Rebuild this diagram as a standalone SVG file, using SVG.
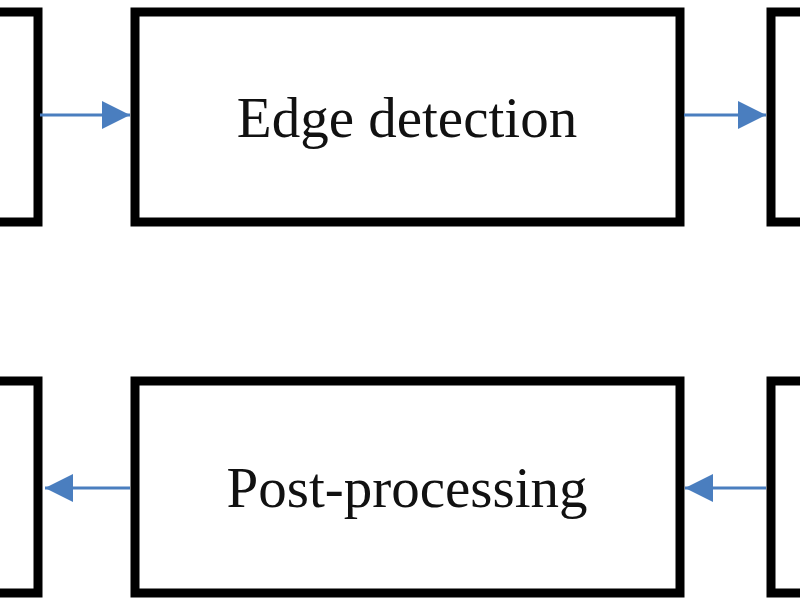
<svg xmlns="http://www.w3.org/2000/svg" width="800" height="600" viewBox="0 0 800 600">
<style>
.box{fill:#fff;stroke:#000;stroke-width:9}
.lbl{font-family:"Liberation Serif",serif;font-size:57px;fill:#111;text-anchor:middle}
</style>
<defs>
<marker id="ah2" markerWidth="28" markerHeight="28" refX="28" refY="14" orient="auto" markerUnits="userSpaceOnUse"><path d="M0,0 L28,14 L0,28 Z" fill="#4a7ebf"/></marker></defs>
<rect width="800" height="600" fill="#fff"/>
<g id="n-left-top"><rect class="box" x="-20" y="12" width="58" height="210"/></g>
<g id="n-edge"><rect class="box" x="135" y="12" width="545" height="210"/><text class="lbl" x="407" y="137">Edge detection</text></g>
<g id="n-right-top"><rect class="box" x="771" y="12" width="60" height="210"/></g>
<g id="n-left-bot"><rect class="box" x="-20" y="381" width="58" height="212"/></g>
<g id="n-post"><rect class="box" x="135" y="381" width="545" height="212"/><text class="lbl" x="407" y="507">Post-processing</text></g>
<g id="n-right-bot"><rect class="box" x="771" y="381" width="60" height="212"/></g>
<g id="connectors" stroke="#4a7ebf" stroke-width="3" fill="none">
<line x1="40" y1="115" x2="130" y2="115" marker-end="url(#ah2)"/>
<line x1="684" y1="115" x2="766" y2="115" marker-end="url(#ah2)"/>
<line x1="130" y1="488" x2="45" y2="488" marker-end="url(#ah2)"/>
<line x1="766" y1="488" x2="685" y2="488" marker-end="url(#ah2)"/>
</g>
</svg>
